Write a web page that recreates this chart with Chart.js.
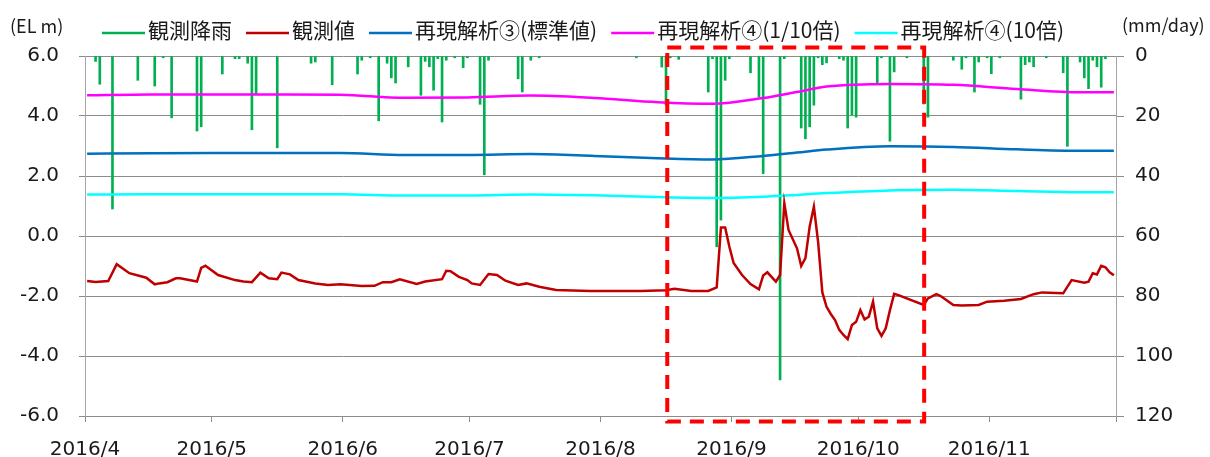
<!DOCTYPE html>
<html lang="ja">
<head>
<meta charset="utf-8">
<title>観測値と再現解析</title>
<script src="https://cdn.jsdelivr.net/npm/chart.js@4.4.1/dist/chart.umd.min.js"></script>
<style>
  html, body { margin: 0; padding: 0; background: #fff; }
  #wrap { width: 1210px; height: 457px; position: relative; }
</style>
</head>
<body>
<div id="wrap"><canvas id="chart"></canvas></div>
<script>
// days are counted from 2016-04-01 (day 0)
const monthStart = [0, 30, 61, 91, 122, 153, 183, 214, 244]
const monthLabels = ['2016/4', '2016/5', '2016/6', '2016/7', '2016/8', '2016/9', '2016/10', '2016/11', '']

// 観測降雨 (mm/day)
const rainDay = [2, 3, 6, 12, 16, 18, 20, 26, 27, 32, 35, 36, 38, 39, 40, 45, 53, 54, 58, 64, 65, 67, 69, 71, 72, 73, 76, 79, 80, 81, 82, 83, 84, 85, 87, 89, 90, 93, 94, 95, 102, 103, 105, 107, 130, 136, 137, 138, 140, 147, 148, 149, 150, 151, 152, 157, 159, 160, 164, 165, 169, 170, 171, 172, 173, 174, 175, 178, 179, 180, 181, 182, 187, 188, 190, 191, 194, 198, 199, 205, 207, 208, 210, 211, 213, 214, 216, 221, 222, 223, 224, 227, 231, 232, 235, 236, 237, 238, 239, 240, 241]
const rainMm = [1.8, 9.4, 51, 8.1, 10, 0.6, 20.6, 25, 23.6, 6, 0.9, 0.9, 2.4, 24.6, 12.8, 30.6, 2.4, 2, 9.6, 6, 1.4, 0.6, 21.6, 2.4, 7.3, 9, 3.6, 13.1, 1.8, 3.6, 11.4, 0.9, 22, 1.4, 0.6, 3.9, 0.6, 16.1, 39.6, 1.4, 7.6, 12, 1.4, 0.6, 0.6, 3.7, 16.4, 0.6, 1.1, 12, 0.9, 63.6, 54.7, 8.1, 0.9, 5.6, 13.7, 39.2, 108, 0.9, 24, 27.6, 23.6, 16.4, 0.6, 2.9, 2.3, 0.9, 1.4, 24, 19.6, 20.4, 8.9, 0.6, 28.4, 5.3, 0.6, 16, 20.4, 1.4, 4.4, 0.6, 12, 2, 0.6, 5.9, 0.6, 14.4, 2.9, 2, 3.6, 0.6, 5.6, 30.1, 2, 7.3, 10.9, 1.4, 3.6, 10.4, 0.9]

// 観測値 (EL m)
const obsDay = [0, 2, 5, 7, 10, 14, 16, 17, 19, 21, 22, 26, 27, 28, 31, 35, 37, 39, 41, 43, 45, 46, 48, 50, 54, 57, 60, 65, 68, 70, 72, 74, 78, 80, 84, 85, 86, 88, 90, 91, 93, 95, 97, 99, 102, 104, 107, 111, 119, 131, 137, 139, 143, 147, 149, 150, 151, 152, 153, 155, 157, 159, 160, 161, 163, 164, 165, 166, 168, 169, 170, 171, 172, 173, 174, 175, 176, 177, 178, 179, 180, 181, 182, 183, 184, 185, 186, 187, 188, 189, 190, 191, 192, 198, 199, 201, 202, 205, 207, 211, 213, 217, 221, 224, 226, 231, 233, 236, 237, 238, 239, 240, 241, 242, 243]
const obsLevel = [-1.50, -1.53, -1.50, -0.94, -1.24, -1.39, -1.61, -1.58, -1.54, -1.41, -1.41, -1.52, -1.06, -0.99, -1.30, -1.47, -1.52, -1.54, -1.22, -1.41, -1.44, -1.22, -1.28, -1.47, -1.58, -1.63, -1.61, -1.67, -1.66, -1.54, -1.54, -1.44, -1.60, -1.52, -1.44, -1.16, -1.17, -1.36, -1.47, -1.58, -1.63, -1.27, -1.30, -1.49, -1.63, -1.58, -1.69, -1.80, -1.83, -1.83, -1.81, -1.76, -1.83, -1.83, -1.71, 0.28, 0.28, -0.36, -0.90, -1.30, -1.60, -1.78, -1.32, -1.21, -1.52, -1.30, 1.09, 0.20, -0.41, -1.00, -0.74, 0.31, 0.98, -0.20, -1.88, -2.36, -2.60, -2.80, -3.13, -3.30, -3.44, -2.97, -2.86, -2.47, -2.78, -2.69, -2.19, -3.08, -3.33, -3.08, -2.47, -1.93, -1.97, -2.30, -2.08, -1.94, -2.00, -2.30, -2.32, -2.30, -2.19, -2.16, -2.10, -1.94, -1.88, -1.91, -1.47, -1.56, -1.52, -1.24, -1.28, -0.99, -1.04, -1.21, -1.31]

// 再現解析 (EL m)
const simDay = [0, 15, 30, 45, 60, 75, 90, 105, 120, 135, 148, 160, 168, 175, 190, 205, 220, 235, 243]
const simStd = [2.74, 2.76, 2.77, 2.77, 2.77, 2.70, 2.70, 2.73, 2.67, 2.59, 2.55, 2.67, 2.78, 2.88, 2.99, 2.97, 2.89, 2.84, 2.84]
const simTenth = [4.69, 4.72, 4.72, 4.72, 4.71, 4.61, 4.62, 4.68, 4.60, 4.46, 4.41, 4.60, 4.80, 4.98, 5.07, 5.04, 4.90, 4.79, 4.79]
const simTen = [1.38, 1.39, 1.39, 1.39, 1.39, 1.35, 1.35, 1.38, 1.36, 1.30, 1.27, 1.31, 1.37, 1.43, 1.52, 1.54, 1.50, 1.46, 1.46]

// period boxed with the red dashed frame (day, EL m)
const boxDays = [137.8, 198.6]
const boxLevels = [6.28, -6.18]

const tickFont = { family: '"DejaVu Sans"', size: 20 }
const textFont = '18px "Noto Sans CJK JP"'
const legendFont = '21px "Noto Sans CJK JP"'
const textColor = '#1a1a1a'
const gridColor = '#8c8c8c'
const axisColor = '#a6a6a6'

// each value sits in the middle of its day
const pts = (days, vals) => days.map((d, i) => ({ x: d + 0.5, y: vals[i] }))

const simLine = (label, color, vals, order) => ({
  type: 'line',
  label,
  data: pts(simDay, vals),
  yAxisID: 'y',
  borderColor: color,
  backgroundColor: color,
  borderWidth: 2.5,
  pointRadius: 0,
  cubicInterpolationMode: 'monotone',
  order
})

const datasets = [
  {
    type: 'bar',
    label: '観測降雨',
    data: pts(rainDay, rainMm),
    yAxisID: 'y2',
    backgroundColor: '#00b050',
    borderColor: '#00b050',
    borderWidth: 0,
    barThickness: 2,
    order: 10
  },
  {
    type: 'line',
    label: '観測値',
    data: pts(obsDay, obsLevel),
    yAxisID: 'y',
    borderColor: '#c00000',
    backgroundColor: '#c00000',
    borderWidth: 2.5,
    pointRadius: 0,
    tension: 0,
    order: 0
  },
  simLine('再現解析③(標準値)', '#0070c0', simStd, 3),
  simLine('再現解析④(1/10倍)', '#ff00ff', simTenth, 2),
  simLine('再現解析④(10倍)', '#00ffff', simTen, 1)
]

// legend row and axis titles
const legendPlugin = {
  id: 'lineLegend',
  afterDraw(chart) {
    const ctx = chart.ctx
    ctx.save()
    ctx.font = legendFont
    ctx.fillStyle = textColor
    ctx.textBaseline = 'middle'
    let x = 102
    for (const ds of chart.data.datasets) {
      ctx.strokeStyle = ds.borderColor
      ctx.lineWidth = 2.5
      ctx.beginPath()
      ctx.moveTo(x, 33)
      ctx.lineTo(x + 43, 33)
      ctx.stroke()
      ctx.fillText(ds.label, x + 46, 30)
      x += 46 + ctx.measureText(ds.label).width + 14
    }
    ctx.font = textFont
    ctx.fillText('(EL m)', 10, 26)
    ctx.fillText('(mm/day)', 1122, 25)
    ctx.restore()
  }
}

const boxPlugin = {
  id: 'periodBox',
  afterDatasetsDraw(chart) {
    const { x, y } = chart.scales
    const ctx = chart.ctx
    const left = x.getPixelForValue(boxDays[0])
    const right = x.getPixelForValue(boxDays[1])
    const top = y.getPixelForValue(boxLevels[0])
    const bottom = y.getPixelForValue(boxLevels[1])
    ctx.save()
    ctx.strokeStyle = '#ff0000'
    ctx.lineWidth = 4
    ctx.setLineDash([14, 9])
    ctx.strokeRect(left, top, right - left, bottom - top)
    ctx.restore()
  }
}

new Chart(document.getElementById('chart'), {
  type: 'line',
  data: { datasets },
  plugins: [boxPlugin, legendPlugin],
  options: {
    responsive: true,
    maintainAspectRatio: false,
    animation: false,
    devicePixelRatio: 1,
    layout: { padding: { top: 56, left: 0, right: 0, bottom: 0 } },
    plugins: {
      legend: { display: false },
      tooltip: { enabled: false }
    },
    scales: {
      x: {
        type: 'linear',
        position: 'bottom',
        min: 0,
        max: 244,
        offset: false,
        afterBuildTicks: s => { s.ticks = monthStart.map(v => ({ value: v })) },
        afterFit: s => { s.height = 41 },
        ticks: {
          autoSkip: false,
          maxRotation: 0,
          font: tickFont,
          color: textColor,
          padding: 16,
          callback: (v, i) => monthLabels[i]
        },
        grid: { drawOnChartArea: false, offset: false, tickLength: 6, color: gridColor },
        border: { color: gridColor }
      },
      y: {
        position: 'left',
        min: -6,
        max: 6,
        afterFit: s => { s.width = 85 },
        ticks: {
          stepSize: 2,
          font: tickFont,
          color: textColor,
          padding: 20,
          callback: v => v.toFixed(1)
        },
        grid: { color: gridColor, tickLength: 6 },
        border: { color: axisColor }
      },
      y2: {
        position: 'right',
        reverse: true,
        min: 0,
        max: 120,
        afterFit: s => { s.width = 94 },
        ticks: {
          stepSize: 20,
          font: tickFont,
          color: textColor,
          padding: 11
        },
        grid: { drawOnChartArea: false, color: gridColor, tickLength: 8 },
        border: { color: axisColor }
      }
    }
  }
})
</script>
</body>
</html>
